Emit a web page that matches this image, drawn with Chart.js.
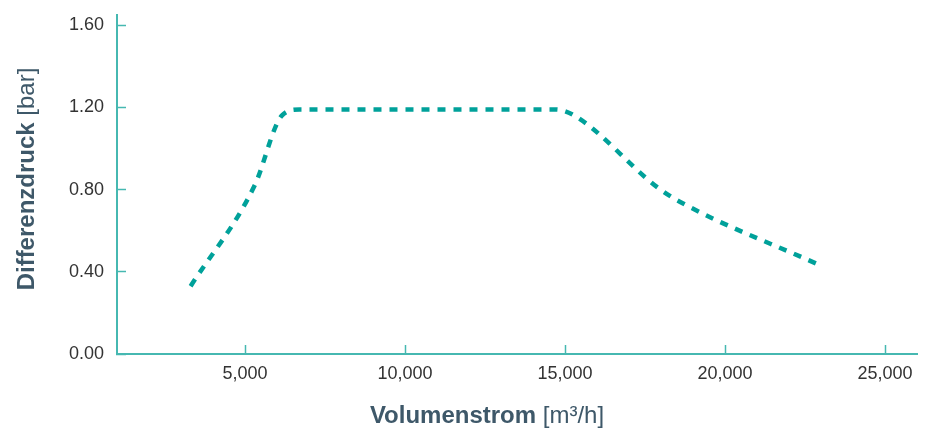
<!DOCTYPE html>
<html>
<head>
<meta charset="utf-8">
<script src="https://cdn.jsdelivr.net/npm/chart.js@4.4.1/dist/chart.umd.min.js"></script>
<style>
  html, body { margin: 0; padding: 0; background: #fff; }
  #wrap { width: 932px; height: 428px; }
</style>
</head>
<body>
<div id="wrap"><canvas id="myChart" width="932" height="428"></canvas></div>
<script>
// Kennlinie: Volumenstrom [m3/h] -> Differenzdruck [bar]
const flowValues = [3300, 5300, 6150, 6700, 14700, 15300, 17900, 18600, 22850];
const pressureValues = [0.33, 0.82, 1.16, 1.19, 1.19, 1.16, 0.81, 0.74, 0.44];

const xTickValues = [5000, 10000, 15000, 20000, 25000];
const yTickValues = [0, 0.4, 0.8, 1.2, 1.6];

const xTitleBold = 'Volumenstrom';
const xTitleUnit = '[m³/h]';
const yTitleBold = 'Differenzdruck';
const yTitleUnit = '[bar]';

const axisColor = '#46b8b1';
const lineColor = '#00a19a';
const titleColor = '#3e5869';
const tickColor = '#333333';

const points = flowValues.map((x, i) => ({x: x, y: pressureValues[i]}));

// Achsentitel mit fettem und normalem Teil
const axisTitles = {
    id: 'axisTitles',
    afterDraw(chart) {
        const c = chart.ctx;
        const bold = 'bold 24px "Liberation Sans", Arial, sans-serif';
        const normal = '24px "Liberation Sans", Arial, sans-serif';
        c.save();
        c.fillStyle = titleColor;
        c.textBaseline = 'alphabetic';
        c.textAlign = 'left';

        function drawTitle(boldText, unitText, cx, cy) {
            c.font = bold;
            const w1 = c.measureText(boldText + ' ').width;
            c.font = normal;
            const w2 = c.measureText(unitText).width;
            let x0 = cx - (w1 + w2) / 2;
            c.font = bold;
            c.fillText(boldText, x0, cy);
            c.font = normal;
            c.fillText(unitText, x0 + w1, cy);
        }

        drawTitle(xTitleBold, xTitleUnit, 487, 423);

        c.translate(34, 179);
        c.rotate(-Math.PI / 2);
        drawTitle(yTitleBold, yTitleUnit, 0, 0);
        c.restore();
    }
};

const ctx = document.getElementById('myChart').getContext('2d');
const myChart = new Chart(ctx, {
    type: 'line',
    data: {
        datasets: [{
            label: 'Differenzdruck',
            data: points,
            borderColor: lineColor,
            borderWidth: 4.5,
            borderDash: [8, 8],
            borderCapStyle: 'butt',
            cubicInterpolationMode: 'monotone',
            pointRadius: 0,
            fill: false
        }]
    },
    options: {
        responsive: false,
        animation: false,
        layout: { padding: { top: 15, right: 15, left: 0, bottom: 0 } },
        plugins: {
            legend: { display: false },
            tooltip: { enabled: false }
        },
        scales: {
            x: {
                type: 'linear',
                min: 1000,
                max: 26000,
                afterBuildTicks: (s) => { s.ticks = xTickValues.map(v => ({value: v})); },
                afterFit: (s) => { s.height = 74; s.paddingLeft = 0; s.paddingRight = 0; },
                border: { color: axisColor, width: 2 },
                grid: {
                    drawOnChartArea: false,
                    color: axisColor,
                    tickLength: -9,
                    tickWidth: 1.5
                },
                ticks: {
                    padding: 18,
                    color: tickColor,
                    font: { family: '"Liberation Sans", Arial, sans-serif', size: 18 },
                    maxRotation: 0,
                    callback: (v) => v.toLocaleString('en-US')
                }
            },
            y: {
                min: 0,
                max: 1.65,
                afterBuildTicks: (s) => { s.ticks = yTickValues.map(v => ({value: v})); },
                afterFit: (s) => { s.width = 117; s.paddingTop = 0; s.paddingBottom = 0; },
                border: { color: axisColor, width: 2 },
                grid: {
                    drawOnChartArea: false,
                    color: axisColor,
                    tickLength: -9,
                    tickWidth: 1.5
                },
                ticks: {
                    padding: 22,
                    color: tickColor,
                    font: { family: '"Liberation Sans", Arial, sans-serif', size: 18 },
                    callback: (v) => v.toFixed(2)
                }
            }
        }
    },
    plugins: [axisTitles]
});
</script>
</body>
</html>
